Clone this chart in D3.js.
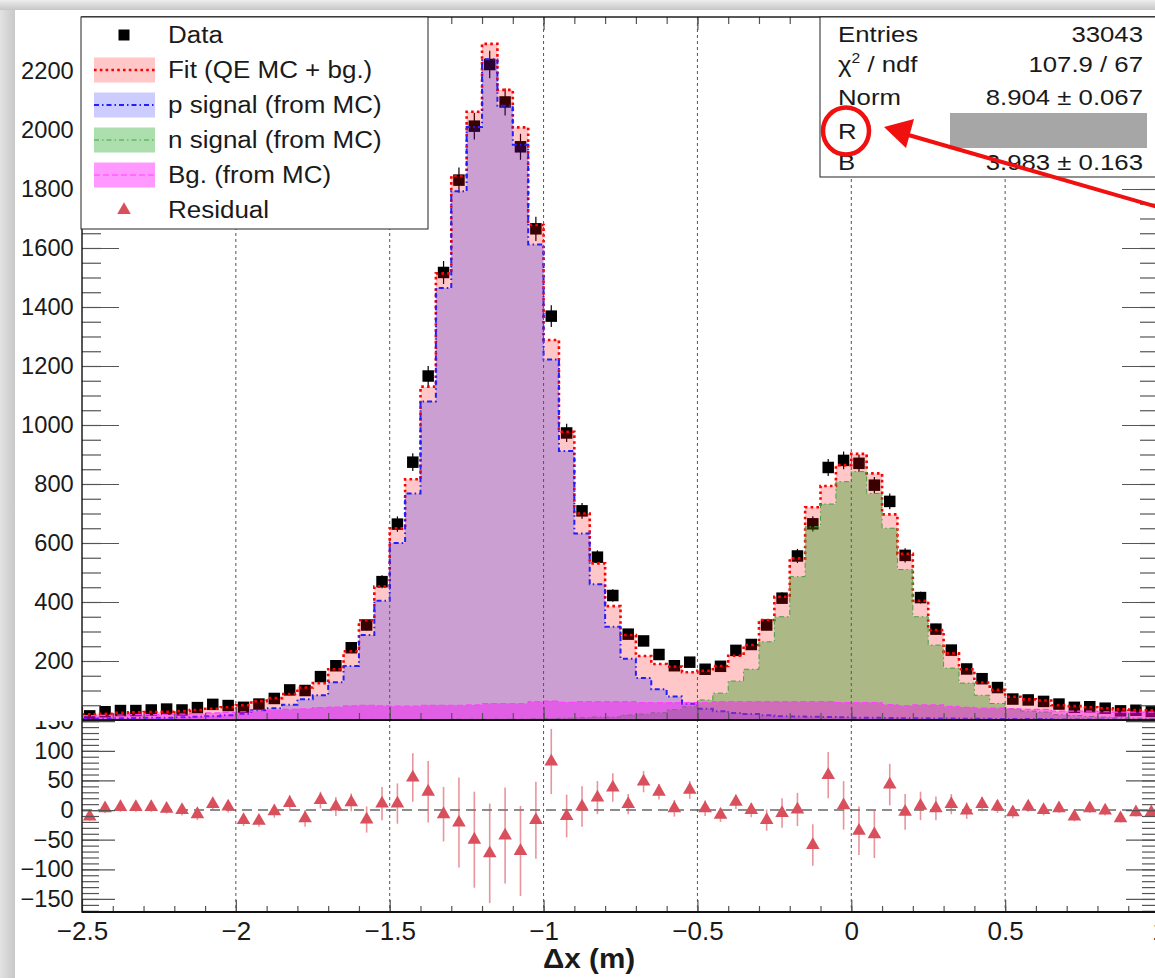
<!DOCTYPE html>
<html>
<head>
<meta charset="utf-8">
<script src="https://cdn.jsdelivr.net/npm/d3@7"></script>
<style>
body { margin: 0; background: #fff; }
svg { display: block; font-family: "Liberation Sans", Arial, Helvetica, sans-serif; }
</style>
</head>
<body>
<svg id="chart" width="1155" height="978"></svg>
<script>
const xMin = -2.5, xMax = 1.0, binWidth = 0.05;

const dataCounts = [14,28,32,32,34,37,34,42,53,49, 43,54,73,102,100,147,184,245,322,469,
    664,874,1166,1517,1830,2013,2222,2095,1943,1665, 1369,973,709,552,422,291,268,222,184,196,
    172,182,236,256,322,413,556,665,856,880, 870,796,741,558,415,308,237,173,140,110,
    71,68,63,54,43,45,40,31,33,29];
const dataErr = [4,5,6,6,6,6,6,6,7,7, 7,7,9,10,10,12,14,16,18,22,
    26,30,34,39,43,45,47,46,44,41, 37,31,27,23,21,17,16,15,14,14,
    13,13,15,16,18,20,24,26,29,30, 29,28,27,24,20,18,15,13,12,10,
    8,8,8,7,7,7,6,6,6,5];
const fitVals = [19,21,24,26,27,28,30,34,38,43, 50,64,74,88,110,125,172,233,338,452,
    650,816,1130,1514,1844,2062,2292,2136,2009,1678, 1288,977,700,531,386,288,217,190,181,162,
    167,183,218,254,339,418,548,721,793,864, 902,836,697,563,404,305,226,172,127,102,
    79,70,66,50,47,43,40,36,34,33];
const pVals = [4,5,6,7,8,8,9,11,13,16, 21,33,40,52,70,84,128,183,288,404,
    600,768,1080,1464,1792,2010,2240,2082,1950,1612, 1222,912,632,460,316,208,142,104,80,55,
    38,30,24,20,16,13,12,11,10,9, 8,8,7,6,6,5,5,4,4,3,
    3,3,3,2,2,2,2,2,2,2];
const nVals = [1,1,1,1,1,1,1,1,1,1, 1,1,1,1,2,2,2,2,2,2,
    2,2,2,2,3,3,3,3,3,4, 5,6,8,10,10,17,20,25,35,45,
    68,91,132,172,265,350,486,655,732,808, 842,768,650,510,350,254,176,125,84,56,
    38,30,27,18,15,12,10,8,6,5];
const bgVals = [15,16,17,18,18,19,20,22,24,26, 28,30,33,36,38,42,44,48,50,48,
    47,47,50,50,50,51,56,56,56,62, 64,60,62,62,62,62,59,59,59,59,
    59,62,62,62,62,62,62,62,62,59, 59,59,52,48,51,51,46,43,40,40,
    38,36,36,30,30,30,28,27,27,27];
const residual = [-11,3,5,5,5,2,0,-7,10,6, -17,-18,-2,12,-14,17,6,13,-16,11,
    11,55,31,-7,-21,-50,-73,-43,-69,-17, 82,-10,6,21,38,10,48,31,3,34,
    3,-8,14,0,-17,-5,1,-59,59,8, -35,-41,43,-3,7,3,10,-1,10,6,
    -4,6,0,3,-11,3,-1,-14,-4,-4];
const residualErr = [7,8,8,8,8,8,9,10,10,10, 10,10,11,13,14,14,16,15,22,28,
    34,41,52,46,76,81,84,81,76,65, 55,36,34,28,24,17,18,13,14,15,
    13,12,12,12,18,25,28,35,39,41, 41,40,35,30,24,20,17,14,12,11,
    10,9,9,8,8,8,8,7,7,7];

const legendLabels = ["Data", "Fit (QE MC + bg.)", "p signal (from MC)", "n signal (from MC)", "Bg. (from MC)", "Residual"];
const statLabels = ["Entries", "χ2 / ndf", "Norm", "R", "B"];
const statValues = ["33043", "107.9 / 67", "8.904 ± 0.067", "", "3.983 ± 0.163"];

const svg = d3.select("#chart");
const x = d3.scaleLinear().domain([xMin, xMax]).range([82, 1159]);
const yTop = d3.scaleLinear().domain([0, 2383]).range([720, 17]);
const yRes = d3.scaleLinear().domain([-172, 152]).range([912, 720]);
const center = i => xMin + (i + 0.5) * binWidth;

// page frame (screenshot border)
const defs = svg.append("defs");
const gTopGrad = defs.append("linearGradient").attr("id", "topGrad").attr("x1", 0).attr("y1", 0).attr("x2", 0).attr("y2", 1);
gTopGrad.append("stop").attr("offset", "0%").attr("stop-color", "#eeeeee");
gTopGrad.append("stop").attr("offset", "100%").attr("stop-color", "#c6c6c6");
const gLeftGrad = defs.append("linearGradient").attr("id", "leftGrad").attr("x1", 0).attr("y1", 0).attr("x2", 1).attr("y2", 0);
gLeftGrad.append("stop").attr("offset", "0%").attr("stop-color", "#e2e2e2");
gLeftGrad.append("stop").attr("offset", "100%").attr("stop-color", "#c8c8c8");
svg.append("rect").attr("width", 1155).attr("height", 978).attr("fill", "#d4d4d4");
svg.append("rect").attr("width", 1155).attr("height", 10).attr("fill", "url(#topGrad)");
svg.append("rect").attr("y", 10).attr("width", 15).attr("height", 968).attr("fill", "url(#leftGrad)");
svg.append("rect").attr("x", 15).attr("y", 10).attr("width", 1140).attr("height", 968).attr("fill", "#fff");

defs.append("clipPath").attr("id", "topClip").append("rect")
    .attr("x", 82).attr("y", 17).attr("width", 1077).attr("height", 703);
defs.append("clipPath").attr("id", "resLabelClip").append("rect")
    .attr("x", 0).attr("y", 721).attr("width", 1155).attr("height", 257);

function txt(g, px, py, s, size, anchor, sx, weight) {
    return g.append("text")
        .attr("transform", `translate(${px},${py}) scale(${sx || 1},1)`)
        .attr("font-size", size)
        .attr("font-weight", weight || "normal")
        .attr("text-anchor", anchor || "start")
        .attr("fill", "#1a1a1a")
        .text(s);
}

const histStyles = [
    { vals: fitVals, fill: "rgba(255,0,0,0.22)", stroke: "#ff0000", width: 2.6, dash: "2.6,3.2" },
    { vals: pVals, fill: "rgba(0,0,255,0.2)", stroke: "#2020ff", width: 2, dash: "5,3,1.5,3" },
    { vals: nVals, fill: "rgba(0,153,0,0.32)", stroke: "#44a044", width: 1, dash: "5,3,1.5,3" },
    { vals: bgVals, fill: "rgba(255,0,255,0.4)", stroke: "#ff40ff", width: 1.2, dash: "6,3" }
];

const gTop = svg.append("g").attr("clip-path", "url(#topClip)");

// data points first, the MC fills sit on top of them
gTop.selectAll(".derr").data(dataCounts).join("line")
    .attr("x1", (d, i) => x(center(i))).attr("x2", (d, i) => x(center(i)))
    .attr("y1", (d, i) => yTop(d - dataErr[i])).attr("y2", (d, i) => yTop(d + dataErr[i]))
    .attr("stroke", "#000").attr("stroke-width", 1.2);
gTop.selectAll(".dpt").data(dataCounts).join("path")
    .attr("d", d3.symbol(d3.symbolSquare, 132))
    .attr("transform", (d, i) => `translate(${x(center(i))},${yTop(d)})`)
    .attr("fill", "#000");

const area = d3.area().curve(d3.curveStepAfter)
    .x(d => x(d[0])).y0(yTop(0)).y1(d => yTop(d[1]));
const line = d3.line().curve(d3.curveStepAfter)
    .x(d => x(d[0])).y(d => yTop(d[1]));

histStyles.forEach(h => {
    const pts = h.vals.map((v, i) => [xMin + i * binWidth, v]);
    pts.push([xMax, h.vals[h.vals.length - 1]]);
    gTop.append("path").attr("d", area(pts)).attr("fill", h.fill);
    gTop.append("path").attr("d", line(pts)).attr("fill", "none")
        .attr("stroke", h.stroke).attr("stroke-width", h.width).attr("stroke-dasharray", h.dash);
});

// residual panel
const resColor = "#d94f5c";
svg.append("line").attr("x1", x(xMin)).attr("x2", x(xMax))
    .attr("y1", yRes(0)).attr("y2", yRes(0))
    .attr("stroke", "#8c8c8c").attr("stroke-width", 2).attr("stroke-dasharray", "10,6");
svg.selectAll(".rerr").data(residual).join("line")
    .attr("x1", (d, i) => x(center(i))).attr("x2", (d, i) => x(center(i)))
    .attr("y1", (d, i) => yRes(d - residualErr[i])).attr("y2", (d, i) => yRes(d + residualErr[i]))
    .attr("stroke", resColor).attr("stroke-opacity", 0.6).attr("stroke-width", 1.6);
svg.selectAll(".rpt").data(residual).join("path")
    .attr("d", d3.symbol(d3.symbolTriangle, 80))
    .attr("transform", (d, i) => `translate(${x(center(i))},${yRes(d)})`)
    .attr("fill", resColor);

// grid
svg.append("g").selectAll("line").data([-2, -1.5, -1, -0.5, 0, 0.5]).join("line")
    .attr("x1", d => x(d)).attr("x2", d => x(d)).attr("y1", 17).attr("y2", 912)
    .attr("stroke", "#555").attr("stroke-width", 1).attr("stroke-dasharray", "3,3");

// axes
function tidy(g, size, sx) {
    g.select(".domain").remove();
    g.selectAll(".tick line").attr("stroke", "#555").attr("stroke-width", 1.2);
    g.selectAll(".tick text").attr("font-size", size).attr("fill", "#1a1a1a")
        .attr("font-family", "Liberation Sans, Arial, sans-serif")
        .attr("transform", `scale(${sx || 1},1)`);
}
const none = () => "";
const xMajor = d3.range(-2.5, 1.01, 0.5);
const xMinor = d3.range(-2.4, 1.0, 0.1);

svg.append("g").attr("transform", "translate(82,0)")
    .call(d3.axisLeft(yTop).tickValues(d3.range(200, 2201, 200)).tickSize(-37).tickPadding(8).tickFormat(d3.format("d")))
    .call(g => tidy(g, 23, 1.03));
svg.append("g").attr("transform", "translate(82,0)")
    .call(d3.axisLeft(yTop).tickValues(d3.range(50, 2383, 50)).tickSize(-19).tickFormat(none)).call(g => tidy(g));
svg.append("g").attr("transform", "translate(1159,0)")
    .call(d3.axisRight(yTop).tickValues(d3.range(200, 2201, 200)).tickSize(-37).tickFormat(none)).call(g => tidy(g));
svg.append("g").attr("transform", "translate(1159,0)")
    .call(d3.axisRight(yTop).tickValues(d3.range(50, 2383, 50)).tickSize(-19).tickFormat(none)).call(g => tidy(g));

[[720, d3.axisBottom], [17, d3.axisTop]].forEach(([py, ax]) => {
    svg.append("g").attr("transform", `translate(0,${py})`)
        .call(ax(x).tickValues(xMajor).tickSize(-13).tickFormat(none)).call(g => tidy(g));
    svg.append("g").attr("transform", `translate(0,${py})`)
        .call(ax(x).tickValues(xMinor).tickSize(-7).tickFormat(none)).call(g => tidy(g));
});

const resLabels = svg.append("g").attr("clip-path", "url(#resLabelClip)");
resLabels.append("g").attr("transform", "translate(82,0)")
    .call(d3.axisLeft(yRes).tickValues([-150, -100, -50, 0, 50, 100, 150]).tickSize(-33).tickPadding(8).tickFormat(d3.format("d")))
    .call(g => tidy(g, 23, 1.03));
svg.append("g").attr("transform", "translate(82,0)")
    .call(d3.axisLeft(yRes).tickValues(d3.range(-170, 151, 10)).tickSize(-17).tickFormat(none)).call(g => tidy(g));
svg.append("g").attr("transform", "translate(1159,0)")
    .call(d3.axisRight(yRes).tickValues([-150, -100, -50, 0, 50, 100, 150]).tickSize(-33).tickFormat(none)).call(g => tidy(g));
svg.append("g").attr("transform", "translate(1159,0)")
    .call(d3.axisRight(yRes).tickValues(d3.range(-170, 151, 10)).tickSize(-17).tickFormat(none)).call(g => tidy(g));

svg.append("g").attr("transform", "translate(0,912)")
    .call(d3.axisBottom(x).tickValues(xMajor).tickSize(-12).tickPadding(10).tickFormat(d3.format("~g")))
    .call(g => tidy(g, 26));
svg.append("g").attr("transform", "translate(0,912)")
    .call(d3.axisBottom(x).tickValues(xMinor).tickSize(-6).tickFormat(none)).call(g => tidy(g));

// frames
const frame = svg.append("g").attr("fill", "none").attr("stroke", "#111");
frame.append("rect").attr("x", 82).attr("y", 17).attr("width", 1077).attr("height", 895).attr("stroke-width", 1.4);
frame.append("line").attr("x1", 82).attr("x2", 1159).attr("y1", 720).attr("y2", 720).attr("stroke-width", 2);
frame.append("line").attr("x1", 82).attr("x2", 1159).attr("y1", 912).attr("y2", 912).attr("stroke-width", 2);

txt(svg, 543, 968, "Δx (m)", 28, "start", 1.06, "bold");

// legend
const legend = svg.append("g");
legend.append("rect").attr("x", 81).attr("y", 17).attr("width", 347).attr("height", 212)
    .attr("fill", "#fff").attr("stroke", "#222").attr("stroke-width", 1);
const rowBase = d3.range(6).map(i => 43 + i * 35);
legendLabels.forEach((lab, i) => {
    const cy = rowBase[i] - 8;
    if (i === 0) {
        legend.append("path").attr("d", d3.symbol(d3.symbolSquare, 121))
            .attr("transform", `translate(124,${cy})`).attr("fill", "#000");
    } else if (i === 5) {
        legend.append("path").attr("d", d3.symbol(d3.symbolTriangle, 80))
            .attr("transform", `translate(124,${cy})`).attr("fill", resColor);
    } else {
        const h = histStyles[i - 1];
        legend.append("rect").attr("x", 94).attr("y", cy - 12.5).attr("width", 61).attr("height", 25).attr("fill", h.fill);
        legend.append("line").attr("x1", 94).attr("x2", 155).attr("y1", cy).attr("y2", cy)
            .attr("stroke", h.stroke).attr("stroke-width", h.width).attr("stroke-dasharray", h.dash);
    }
    txt(legend, 168, rowBase[i], lab, 23, "start", 1.13);
});

// stats box
const stats = svg.append("g");
stats.append("rect").attr("x", 820).attr("y", 17).attr("width", 345).attr("height", 160)
    .attr("fill", "#fff").attr("stroke", "#222").attr("stroke-width", 1);
const statBase = [42, 72, 105, 139, 170];
statLabels.forEach((lab, i) => {
    if (i === 1) {
        const t = txt(stats, 838, statBase[i], "", 23, "start", 1.12);
        t.append("tspan").text("χ");
        t.append("tspan").attr("font-size", 14).attr("dy", -9).text("2");
        t.append("tspan").attr("dy", 9).text(" / ndf");
    } else {
        txt(stats, 838, statBase[i], lab, 23, "start", 1.12);
    }
    txt(stats, 1143, statBase[i], statValues[i], 23, "end", 1.12);
});
stats.append("rect").attr("x", 950).attr("y", 113).attr("width", 197).attr("height", 35).attr("fill", "#a6a6a6");

// red annotation
const note = svg.append("g");
note.append("ellipse").attr("cx", 846).attr("cy", 131).attr("rx", 23).attr("ry", 23.5)
    .attr("fill", "none").attr("stroke", "#f01010").attr("stroke-width", 4.5);
note.append("line").attr("x1", 1175).attr("y1", 212).attr("x2", 905).attr("y2", 134)
    .attr("stroke", "#f01010").attr("stroke-width", 4);
note.append("path").attr("d", "M884,127L914,119L906,148Z").attr("fill", "#f01010");
</script>
</body>
</html>
